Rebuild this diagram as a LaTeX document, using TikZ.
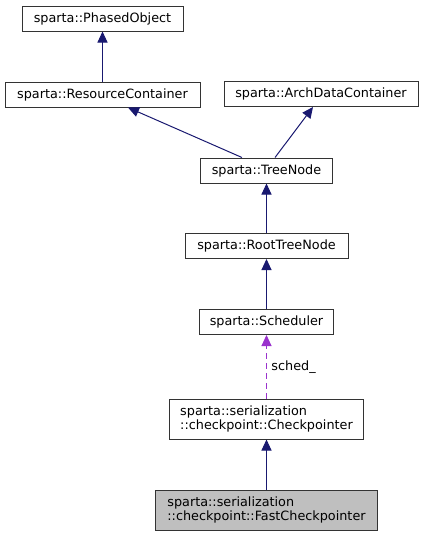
\documentclass[tikz,border=0pt]{standalone}
\usepackage{fontspec}
\setmainfont{DejaVu Sans}
\usetikzlibrary{arrows.meta}
\definecolor{inhblue}{HTML}{191970}
\definecolor{usepurple}{HTML}{9A32CD}
\definecolor{boxgray}{HTML}{BFBFBF}

\begin{document}
\begin{tikzpicture}[
	x=0.75pt, y=-0.75pt,
	font=\fontsize{9.6}{11}\selectfont,
	% Style for class boxes
	cls/.style={rectangle, draw=black!80, line width=0.75pt, minimum height=18.75pt, inner sep=0pt},
	% Style for two-line class boxes
	wide/.style={cls, minimum height=30pt, align=left},
	% Style for inheritance arrows
	inh/.style={draw=inhblue, line width=0.75pt, -{Triangle[length=8.25pt, width=7.5pt]}},
	% Style for usage arrows
	uses/.style={draw=usepurple, line width=0.75pt, dash pattern=on 4.5pt off 3pt, -{Triangle[length=8.25pt, width=7.5pt]}}
	]
	\useasboundingbox (0,0) rectangle (424,536);
	
	% 1. Base classes
	\node[cls, minimum width=120.75pt] (phased) at (102.5,18.5) {sparta::PhasedObject};
	\node[cls, minimum width=146.25pt] (res) at (102.5,94.5) {sparta::ResourceContainer};
	\node[cls, minimum width=145.5pt] (arch) at (321,94) {sparta::ArchDataContainer};
	
	% 2. Tree nodes
	\node[cls, minimum width=99pt] (tree) at (266.5,170.5) {sparta::TreeNode};
	\node[cls, minimum width=122.25pt] (root) at (266.5,246) {sparta::RootTreeNode};
	\node[cls, minimum width=100.5pt] (sched) at (266.5,322) {sparta::Scheduler};
	
	% 3. Checkpointers
	\node[wide, minimum width=145.5pt] (ckpt) at (266.5,419) {sparta::serialization\\::checkpoint::Checkpointer};
	\node[wide, minimum width=166.5pt, fill=boxgray] (fast) at (266.5,510) {sparta::serialization\\::checkpoint::FastCheckpointer};
	
	% 4. Inheritance
	\draw[inh] (res) -- (phased);
	\draw[inh] ([xshift=-18.4pt]tree.north) -- ([xshift=19.1pt]res.south);
	\draw[inh] ([xshift=6.4pt]tree.north) -- ([xshift=-6pt]arch.south);
	\draw[inh] (root) -- (tree);
	\draw[inh] (sched) -- (root);
	\draw[inh] (fast) -- (ckpt);
	
	% 5. Usage
	\draw[uses] (ckpt) -- (sched) node[midway, right] {sched\_};
	
\end{tikzpicture}
\end{document}
